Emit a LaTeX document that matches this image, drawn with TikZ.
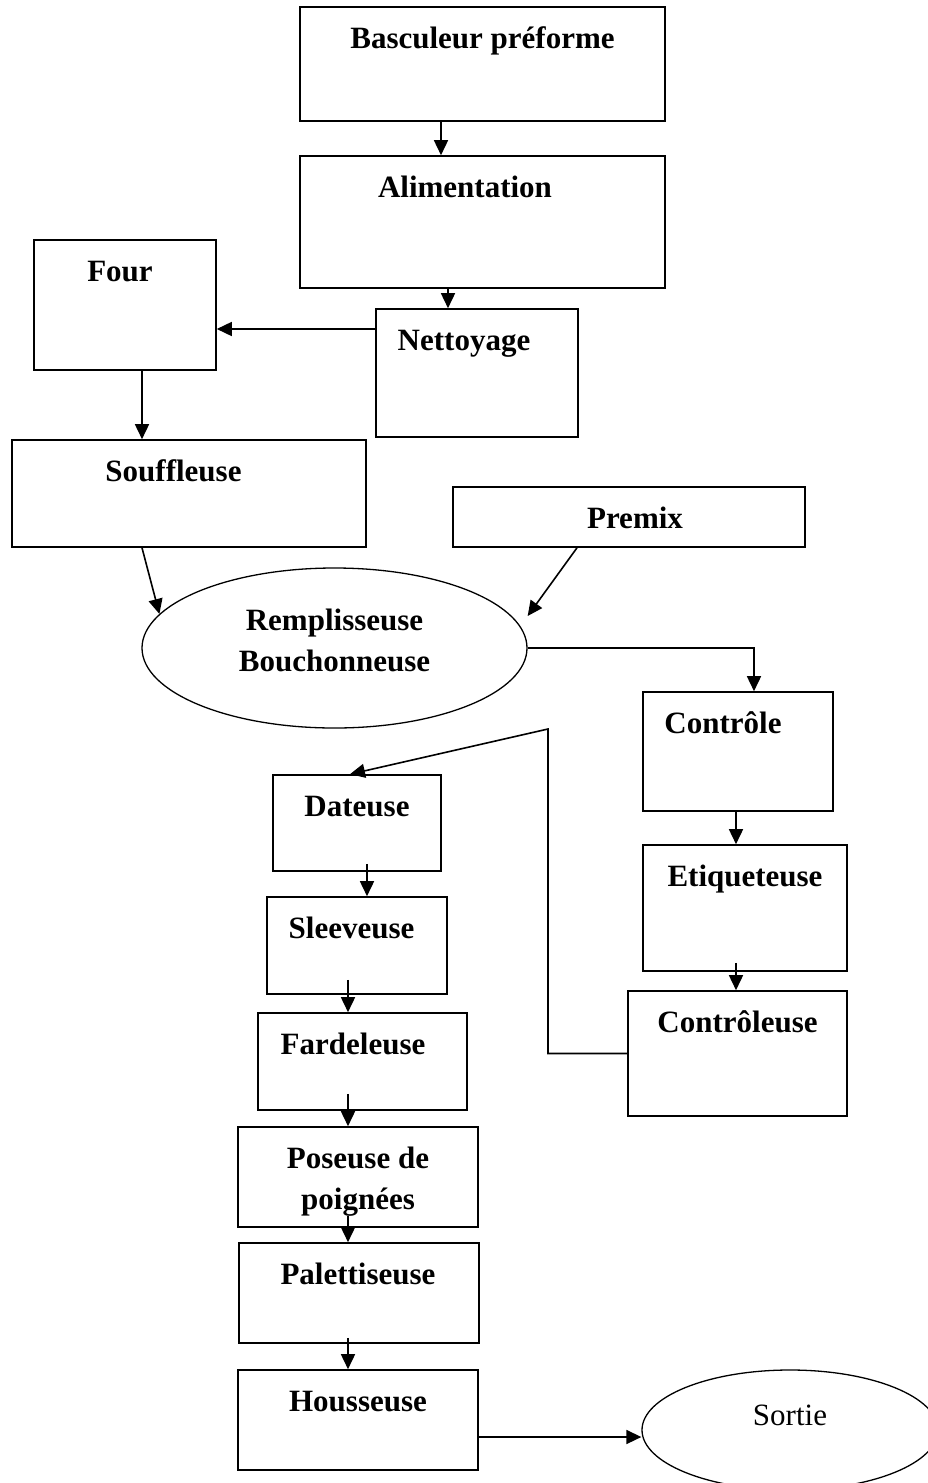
\documentclass[tikz,border=0pt]{standalone}
\usepackage{fontspec}
\setmainfont{Liberation Serif}
\usetikzlibrary{arrows.meta,shapes.geometric}
\tikzset{
  box/.style={draw, line width=1.6pt, inner sep=0pt},
  oval/.style={draw, ellipse, line width=1.3pt, inner sep=0pt},
  ttl/.style={font=\bfseries\fontsize{31}{41}\selectfont, anchor=base, yshift=-42pt},
  arr/.style={line width=1.6pt, -{Triangle[length=15pt,width=14pt]}},
}

\begin{document}
\begin{tikzpicture}[x=1pt,y=-1pt]
  \useasboundingbox (0,0) rectangle (928,1483);
  \node[box, minimum width=365, minimum height=114, label={[ttl]north:Basculeur préforme}] (bascul) at (482.5,64) {};
  \node[box, minimum width=365, minimum height=132, label={[ttl,xshift=-17.5pt]north:Alimentation}] (alim) at (482.5,222) {};
  \node[box, minimum width=182, minimum height=130, label={[ttl,xshift=-5pt]north:Four}] (four) at (125,305) {};
  \node[box, minimum width=202, minimum height=128, label={[ttl,xshift=-13pt]north:Nettoyage}] (netto) at (477,373) {};
  \node[box, minimum width=354, minimum height=107, label={[ttl,xshift=-15.5pt]north:Souffleuse}] (souff) at (189,493.5) {};
  \node[box, minimum width=352, minimum height=60, label={[ttl,xshift=6pt]north:Premix}] (premix) at (629,517) {};
  \node[oval, minimum width=385, minimum height=160,
        label={[font=\bfseries\fontsize{31}{41}\selectfont, align=center, anchor=base, yshift=8pt]center:Remplisseuse\\Bouchonneuse}] (remp) at (334.5,648) {};
  \node[box, minimum width=190, minimum height=119, label={[ttl,xshift=-15pt]north:Contrôle}] (ctrl) at (738,751.5) {};
  \node[box, minimum width=204, minimum height=126, label={[ttl]north:Etiqueteuse}] (etiq) at (745,908) {};
  \node[box, minimum width=219, minimum height=125, label={[ttl]north:Contrôleuse}] (ctrleuse) at (737.5,1053.5) {};
  \node[box, minimum width=168, minimum height=96, label={[ttl]north:Dateuse}] (date) at (357,823) {};
  \node[box, minimum width=180, minimum height=97, label={[ttl,xshift=-5.5pt]north:Sleeveuse}] (sleeve) at (357,945.5) {};
  \node[box, minimum width=209, minimum height=97, label={[ttl,xshift=-9.5pt]north:Fardeleuse}] (farde) at (362.5,1061.5) {};
  \node[box, minimum width=240, minimum height=100, label={[ttl,align=center,yshift=-41pt]north:Poseuse de\\poignées}] (poseuse) at (358,1177) {};
  \node[box, minimum width=240, minimum height=100, label={[ttl,xshift=-1pt]north:Palettiseuse}] (palett) at (359,1293) {};
  \node[box, minimum width=240, minimum height=100, label={[ttl]north:Housseuse}] (housse) at (358,1420) {};
  \node[oval, minimum width=296, minimum height=120,
        label={[font=\fontsize{31}{41}\selectfont, anchor=base, yshift=15pt]center:Sortie}] (sortie) at (790,1430) {};
  \coordinate (bend) at (548,729);

  \draw[arr] ([xshift=-41.5pt]bascul.south) -- ([xshift=-41.5pt]alim.north);
  \draw[arr] ([xshift=-34.5pt]alim.south) -- ([xshift=-29pt]netto.north);
  \draw[arr] ([yshift=44pt]netto.west) -- ([yshift=-24pt]four.east);
  \draw[arr] ([xshift=17pt]four.south) -- ([xshift=-47pt]souff.north);
  \draw[arr] ([xshift=-47pt]souff.south) -- (remp.169);
  \draw[arr] ([xshift=-52pt]premix.south) -- ([yshift=32pt]remp.east);
  \draw[arr] (remp.east) -| ([xshift=16pt]ctrl.north);
  \draw[arr] ([xshift=-2pt]ctrl.south) -- ([xshift=-9pt]etiq.north);
  \draw[arr] ([xshift=-9pt,yshift=9pt]etiq.south) -- ([xshift=-1.5pt]ctrleuse.north);
  \draw[arr] (ctrleuse.west) -| (bend) -- ([xshift=-7pt]date.north);
  \draw[arr] ([xshift=10pt,yshift=8pt]date.south) -- ([xshift=10pt]sleeve.north);
  \draw[arr] ([xshift=-9pt,yshift=15pt]sleeve.south) -- ([xshift=-14.5pt]farde.north);
  \draw[arr] ([xshift=-14.5pt,yshift=17pt]farde.south) -- ([xshift=-10pt]poseuse.north);
  \draw[arr] ([xshift=-10pt,yshift=12pt]poseuse.south) -- ([xshift=-11pt]palett.north);
  \draw[arr] ([xshift=-11pt,yshift=6pt]palett.south) -- ([xshift=-10pt]housse.north);
  \draw[arr] ([yshift=-17pt]housse.east) -- ([yshift=-7pt]sortie.west);
\end{tikzpicture}
\end{document}
